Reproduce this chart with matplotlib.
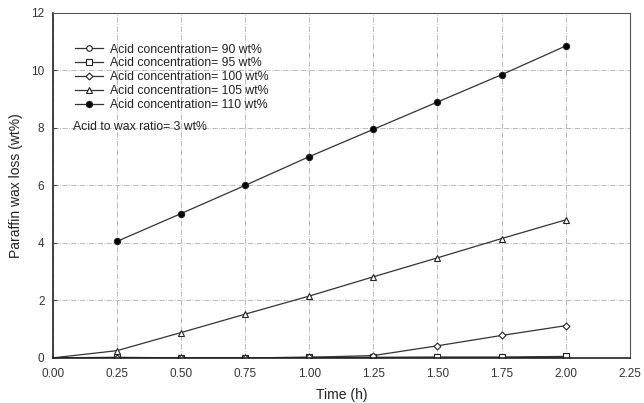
import numpy as np
import matplotlib
matplotlib.use('Agg')
import matplotlib.pyplot as plt

plt.rcParams['font.family'] = ['Liberation Sans', 'DejaVu Sans']

# reaction time (h)
time_h = [0.0, 0.25, 0.50, 0.75, 1.00, 1.25, 1.50, 1.75, 2.00]

# paraffin wax loss (wt%) for each acid concentration
loss_90 = [0.0, 0.0, 0.0, 0.0, 0.0, 0.0, 0.0, 0.0, 0.03]
loss_95 = [0.0, 0.02, 0.0, 0.0, 0.02, 0.02, 0.03, 0.03, 0.05]
loss_100 = [0.0, 0.0, 0.0, 0.0, 0.02, 0.08, 0.42, 0.78, 1.12]
loss_105 = [0.0, 0.25, 0.88, 1.52, 2.15, 2.82, 3.48, 4.15, 4.80]
loss_110 = [np.nan, 4.05, 5.02, 6.0, 7.0, 7.95, 8.9, 9.85, 10.85]

labels = ['Acid concentration= 90 wt%', 'Acid concentration= 95 wt%',
          'Acid concentration= 100 wt%', 'Acid concentration= 105 wt%',
          'Acid concentration= 110 wt%']
series = [loss_90, loss_95, loss_100, loss_105, loss_110]
markers = ['o', 's', 'D', '^', 'o']
fills = ['white', 'white', 'white', 'white', 'black']
sizes = [4, 4, 3.5, 4, 4.5]

fig = plt.figure(figsize=(6.44, 4.03), dpi=100)
ax = fig.add_axes([0.082, 0.112, 0.896, 0.856])

for y, lab, m, fc, ms in zip(series, labels, markers, fills, sizes):
    ax.plot(time_h, y, color='#333333', lw=0.9, marker=m, ms=ms,
            mfc=fc, mec='#222222', mew=0.8, markevery=slice(1, None),
            label=lab)

ax.set_xlim(0, 2.25)
ax.set_ylim(0, 12)
ax.set_xticks(np.arange(0, 2.26, 0.25))
ax.set_xticklabels(['%.2f' % v for v in np.arange(0, 2.26, 0.25)])
ax.set_yticks(range(0, 13, 2))
ax.tick_params(direction='in', length=3, width=0.6, labelsize=8.5,
               colors='#333333')
ax.tick_params(axis='x', pad=7)
ax.tick_params(axis='y', pad=6)
ax.grid(True, color='#b0b0b0', lw=0.6, ls='-.')

for side in ['left', 'bottom']:
    ax.spines[side].set_linewidth(1.2)
    ax.spines[side].set_color('#222222')
for side in ['top', 'right']:
    ax.spines[side].set_linewidth(0.8)
    ax.spines[side].set_color('#555555')

ax.set_xlabel('Time (h)', fontsize=10, color='#222222', labelpad=6)
ax.set_ylabel('Paraffin wax loss (wt%)', fontsize=10, color='#222222',
              labelpad=6)

leg = ax.legend(loc='upper left', bbox_to_anchor=(0.03, 0.925),
                frameon=False, fontsize=8.8, handlelength=2.3,
                handletextpad=0.6, labelspacing=0.15, borderaxespad=0)
for t in leg.get_texts():
    t.set_color('#222222')
ax.text(0.035, 0.67, 'Acid to wax ratio= 3 wt%', transform=ax.transAxes,
        fontsize=8.8, color='#222222', va='center')

fig.savefig('out.png', dpi=100)
